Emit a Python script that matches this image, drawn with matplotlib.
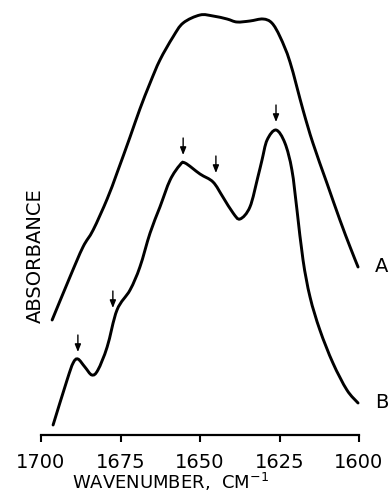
import numpy as np
import matplotlib
matplotlib.use("Agg")
import matplotlib.pyplot as plt
from matplotlib.path import Path
from matplotlib.patches import PathPatch

# spectrum A (upper trace)
wn_a = [1696.5, 1690.9, 1686.8, 1683.6, 1679.2, 1676.1, 1672.0, 1668.9, 1665.7,
        1662.6, 1658.5, 1655.3, 1650.0, 1645.9, 1641.5, 1638.4, 1634.3, 1630.2,
        1627.4, 1624.8, 1621.7, 1617.6, 1614.5, 1610.1, 1606.0, 1602.8, 1600.3]
abs_a = [1.15, 1.58, 1.88, 2.05, 2.36, 2.62, 2.98, 3.26, 3.52,
         3.75, 3.98, 4.12, 4.20, 4.19, 4.16, 4.13, 4.14, 4.16,
         4.12, 3.98, 3.73, 3.25, 2.92, 2.52, 2.15, 1.88, 1.68]

# spectrum B (lower trace)
wn_b = [1696.2, 1691.8, 1689.9, 1688.4, 1686.2, 1684.0, 1682.1, 1679.2, 1676.1,
        1672.0, 1668.9, 1665.7, 1662.6, 1659.4, 1656.3, 1654.7, 1650.0, 1645.9,
        1642.8, 1639.6, 1637.4, 1634.3, 1631.8, 1630.5, 1628.9, 1626.1, 1623.3,
        1621.1, 1619.5, 1617.6, 1615.4, 1612.3, 1608.2, 1603.8, 1600.3]
abs_b = [0.10, 0.55, 0.72, 0.76, 0.68, 0.60, 0.65, 0.88, 1.25,
         1.45, 1.68, 2.02, 2.28, 2.55, 2.70, 2.72, 2.61, 2.53,
         2.38, 2.22, 2.16, 2.28, 2.58, 2.75, 2.95, 3.05, 2.92,
         2.65, 2.25, 1.75, 1.38, 1.05, 0.72, 0.45, 0.32]

# band positions marked with arrows (wavenumber, arrow tip height)
arrow_wn = [1688.4, 1677.4, 1655.3, 1645.0, 1626.1]
arrow_tip = [0.83, 1.27, 2.80, 2.62, 3.13]
arrow_len = 0.17

xticks = [1700, 1675, 1650, 1625, 1600]


def smooth_path(x, y):
    # bezier segments through the read points (catmull-rom handles)
    p = np.column_stack([x, y]).astype(float)
    verts = [p[0]]
    codes = [Path.MOVETO]
    for i in range(len(p) - 1):
        p0 = p[i - 1] if i > 0 else p[i]
        p3 = p[i + 2] if i + 2 < len(p) else p[i + 1]
        c1 = p[i] + (p[i + 1] - p0) / 6
        c2 = p[i + 1] - (p3 - p[i]) / 6
        verts += [c1, c2, p[i + 1]]
        codes += [Path.CURVE4] * 3
    return Path(verts, codes)


W, H = 389, 493
fig = plt.figure(figsize=(W / 100, H / 100), dpi=100)
ax = fig.add_axes([41 / W, (H - 435) / H, (359 - 41) / W, 435 / H])

for xs, ys in [(wn_a, abs_a), (wn_b, abs_b)]:
    ax.add_patch(PathPatch(smooth_path(xs, ys), facecolor="none", edgecolor="black",
                           lw=2.1, capstyle="round", clip_on=False))

for x, y in zip(arrow_wn, arrow_tip):
    ax.annotate("", xy=(x, y), xytext=(x, y + arrow_len),
                arrowprops=dict(arrowstyle="-|>,head_length=0.45,head_width=0.18",
                                color="black", lw=1.0, shrinkA=0, shrinkB=0))

ax.text(1592.8, abs_a[-1], "A", fontsize=14, va="center", ha="center", clip_on=False)
ax.text(1592.8, abs_b[-1], "B", fontsize=14, va="center", ha="center", clip_on=False)

ax.set_xlim(1700, 1600)
ax.set_ylim(0, 4.35)
ax.set_xticks(xticks)
ax.set_xticklabels([str(t) for t in xticks], fontsize=14)
ax.tick_params(axis="x", direction="out", length=5, width=1.5, pad=8)
ax.set_yticks([])
for s in ["left", "right", "top"]:
    ax.spines[s].set_visible(False)
ax.spines["bottom"].set_linewidth(1.6)
ax.patch.set_alpha(0)

fig.text(171 / W, 1 - 489 / H, "WAVENUMBER,  CM$^{-1}$", fontsize=13,
         ha="center", va="baseline")
fig.text(35 / W, 1 - 256 / H, "ABSORBANCE", fontsize=14, rotation=90,
         ha="center", va="center")

fig.savefig("out.png", dpi=100)
